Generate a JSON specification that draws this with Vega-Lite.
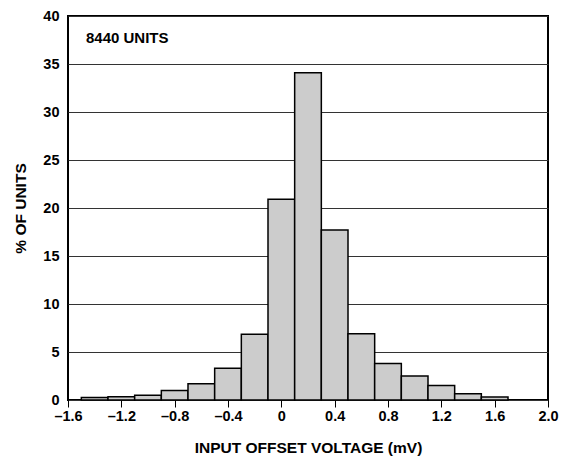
{
  "$schema": "https://vega.github.io/schema/vega-lite/v6.json",
  "width": 480,
  "height": 384,
  "autosize": {"type": "none"},
  "padding": {"left": 68, "top": 16, "right": 13, "bottom": 61},
  "background": "white",
  "config": {
    "font": "Liberation Sans",
    "view": {"stroke": "black", "strokeWidth": 2},
    "axis": {
      "labelFont": "Liberation Sans",
      "labelFontWeight": "bold",
      "labelFontSize": 14.5,
      "labelColor": "black",
      "titleFont": "Liberation Sans",
      "titleFontWeight": "bold",
      "titleFontSize": 15.5,
      "titleColor": "black",
      "domain": false
    }
  },
  "layer": [
    {
      "data": {
        "values": [
          {"lo": -1.5, "hi": -1.3, "pct": 0.25},
          {"lo": -1.3, "hi": -1.1, "pct": 0.35},
          {"lo": -1.1, "hi": -0.9, "pct": 0.5},
          {"lo": -0.9, "hi": -0.7, "pct": 1.0},
          {"lo": -0.7, "hi": -0.5, "pct": 1.7},
          {"lo": -0.5, "hi": -0.3, "pct": 3.3},
          {"lo": -0.3, "hi": -0.1, "pct": 6.85},
          {"lo": -0.1, "hi": 0.1, "pct": 20.9},
          {"lo": 0.1, "hi": 0.3, "pct": 34.1},
          {"lo": 0.3, "hi": 0.5, "pct": 17.7},
          {"lo": 0.5, "hi": 0.7, "pct": 6.9},
          {"lo": 0.7, "hi": 0.9, "pct": 3.8},
          {"lo": 0.9, "hi": 1.1, "pct": 2.5},
          {"lo": 1.1, "hi": 1.3, "pct": 1.5},
          {"lo": 1.3, "hi": 1.5, "pct": 0.65},
          {"lo": 1.5, "hi": 1.7, "pct": 0.3}
        ]
      },
      "mark": {"type": "rect", "fill": "#cccccc", "stroke": "black", "strokeWidth": 1.5},
      "encoding": {
        "x": {
          "field": "lo",
          "type": "quantitative",
          "scale": {"domain": [-1.6, 2.0], "nice": false, "zero": false},
          "axis": {
            "values": [-1.6, -1.2, -0.8, -0.4, 0, 0.4, 0.8, 1.2, 1.6, 2.0],
            "grid": false,
            "ticks": true,
            "tickColor": "black",
            "tickSize": 7,
            "tickWidth": 1,
            "labelPadding": 2,
            "labelFlush": false,
            "labelExpr": "datum.value == 0 ? '0' : (datum.value < 0 ? '–' + format(-datum.value, '.1f') : format(datum.value, '.1f'))",
            "title": "INPUT OFFSET VOLTAGE (mV)",
            "titlePadding": 18
          }
        },
        "x2": {"field": "hi"},
        "y": {
          "field": "pct",
          "type": "quantitative",
          "scale": {"domain": [0, 40], "nice": false},
          "axis": {
            "values": [0, 5, 10, 15, 20, 25, 30, 35, 40],
            "grid": true,
            "gridColor": "#333333",
            "gridWidth": 1.2,
            "gridOpacity": 1,
            "ticks": false,
            "labelPadding": 9,
            "title": "% OF UNITS",
            "titlePadding": 14
          }
        },
        "y2": {"datum": 0}
      }
    },
    {
      "data": {"values": [{"label": "8440 UNITS", "xv": -1.465, "yv": 37.7}]},
      "mark": {"type": "text", "align": "left", "baseline": "middle", "fontWeight": "bold", "fontSize": 15, "font": "Liberation Sans", "color": "black"},
      "encoding": {
        "x": {"field": "xv", "type": "quantitative"},
        "y": {"field": "yv", "type": "quantitative"},
        "text": {"field": "label"}
      }
    }
  ]
}
